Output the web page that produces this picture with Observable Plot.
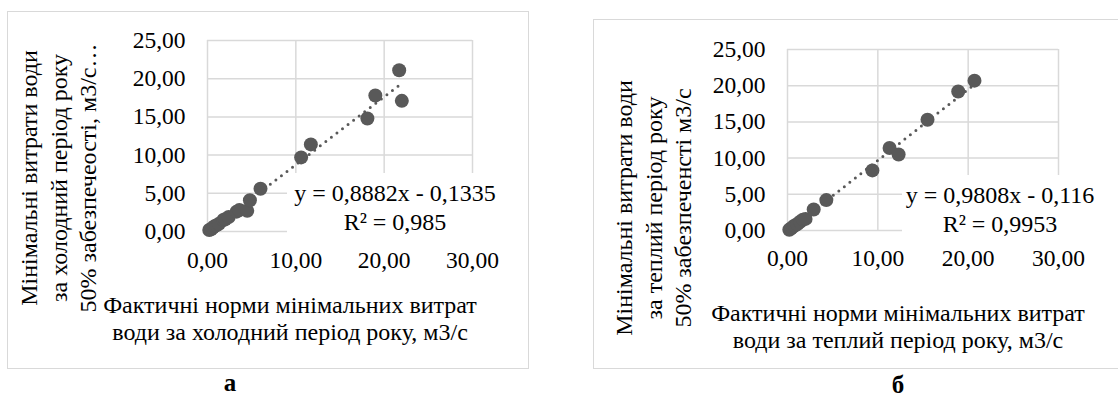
<!DOCTYPE html>
<html>
<head>
<meta charset="utf-8">
<script src="https://cdn.jsdelivr.net/npm/d3@7"></script>
<script src="https://cdn.jsdelivr.net/npm/@observablehq/plot@0.6"></script>
</head>
<body style="margin:0;padding:0;background:#fff;font-family:'Liberation Serif'">
<div id="root" style="position:relative;width:1118px;height:403px;background:#fff;overflow:hidden;font-family:'Liberation Serif';color:#000"></div>
<script>
// ---------- data ----------
const xTicks = [0, 10, 20, 30];
const yTicks = [0, 5, 10, 15, 20, 25];

// (а) cold period
const coldX = [0.2, 0.4, 0.6, 0.8, 1.0, 1.3, 1.8, 2.0, 2.4, 3.3, 3.6, 4.5, 4.8, 6.0, 10.6, 11.7, 18.1, 19.0, 21.7, 22.0];
const coldY = [0.2, 0.3, 0.5, 0.7, 0.8, 1.0, 1.5, 1.6, 1.9, 2.6, 2.8, 2.7, 4.1, 5.6, 9.7, 11.4, 14.8, 17.8, 21.1, 17.1];
const coldSlope = 0.8882, coldIntercept = -0.1335;
const coldEq = ["y = 0,8882x - 0,1335", "R² = 0,985"];
const coldYTitle = ["Мінімальні витрати води", "за холодний період року", "50% забезпечеості, м3/с…"];
const coldXTitle = ["Фактичні норми мінімальних витрат", "води за холодний період року, м3/с"];
const coldCaption = "а";

// (б) warm period
const warmX = [0.2, 0.4, 0.6, 0.8, 1.1, 1.4, 1.7, 2.0, 2.9, 4.3, 9.4, 11.3, 12.3, 15.5, 18.9, 20.7];
const warmY = [0.1, 0.3, 0.5, 0.7, 0.9, 1.2, 1.5, 1.6, 2.9, 4.2, 8.3, 11.4, 10.5, 15.3, 19.2, 20.7];
const warmSlope = 0.9808, warmIntercept = -0.116;
const warmEq = ["y = 0,9808x - 0,116", "R² = 0,9953"];
const warmYTitle = ["Мінімальні витрати води", "за теплий період року", "50% забезпеченсті м3/с"];
const warmXTitle = ["Фактичні норми мінімальних витрат", "води за теплий період року, м3/с"];
const warmCaption = "б";

// ---------- drawing ----------
const FONT = "'Liberation Serif'";
const fmt = d => d.toFixed(2).replace(".", ",");
const root = document.getElementById("root");

function el(css, html) {
  const d = document.createElement("div");
  Object.assign(d.style, {position: "absolute", fontFamily: FONT, color: "#000"}, css);
  if (html != null) d.innerHTML = html;
  root.appendChild(d);
  return d;
}

function panel(o) {
  const pts = o.xs.map((x, i) => ({x, y: o.ys[i]}));
  const x0 = d3.min(o.xs), x1 = d3.max(o.xs);
  const trend = [x0, x1].map(x => ({x, y: o.slope * x + o.intercept}));
  const chart = Plot.plot({
    width: o.w, height: o.h,
    marginLeft: o.ml, marginRight: o.mr, marginTop: o.mt, marginBottom: o.mb,
    style: {background: "transparent", fontFamily: FONT, fontSize: "23.5px", color: "#000", overflow: "visible", maxWidth: "none"},
    x: {domain: [0, 30], label: null},
    y: {domain: [0, 25], label: null},
    marks: [
      Plot.gridY(yTicks, {stroke: "#d9d9d9", strokeOpacity: 1, strokeWidth: 1.5}),
      Plot.gridX(xTicks, {stroke: "#d9d9d9", strokeOpacity: 1, strokeWidth: 1.5}),
      Plot.axisY({ticks: yTicks, tickSize: 0, tickPadding: 22, tickFormat: fmt, label: null, fontFamily: FONT}),
      Plot.axisX({ticks: xTicks, tickSize: 0, tickPadding: o.xpad, tickFormat: fmt, label: null, fontFamily: FONT}),
      Plot.line(trend, {x: "x", y: "y", stroke: "#595959", strokeWidth: 3, strokeDasharray: "0,7", strokeLinecap: "round"}),
      Plot.dot(pts, {x: "x", y: "y", r: 7, fill: "#595959", stroke: "none"})
    ]
  });
  const wrap = el({left: o.left + "px", top: "0px"});
  wrap.appendChild(chart);
  el({left: o.eqL + "px", top: o.eqT + "px", width: o.eqW + "px", height: "70px", background: "#fff",
      textAlign: "center", fontSize: "24px", lineHeight: "28.5px", whiteSpace: "nowrap",
      boxSizing: "border-box", paddingTop: "6px"}, o.eq.join("<br>"));
  el({left: o.bx + "px", top: o.by + "px", width: o.bw + "px", height: o.bh + "px",
      border: "1.5px solid #d9d9d9", boxSizing: "border-box"});
  el({left: o.ytx + "px", top: o.yty + "px", transform: "translate(-50%, -50%) rotate(-90deg)",
      whiteSpace: "nowrap", textAlign: "center", fontSize: "24px", lineHeight: "29.5px"}, o.ytitle.join("<br>"));
  el({left: o.xtx + "px", top: o.xty + "px", transform: "translate(-50%, 0)", whiteSpace: "nowrap",
      textAlign: "center", fontSize: "24px", lineHeight: "26.5px"}, o.xtitle.join("<br>"));
  el({left: o.capx + "px", top: o.capy + "px", transform: "translate(-50%, -50%)", fontSize: "25px",
      fontWeight: "bold"}, o.cap);
}

panel({
  xs: coldX, ys: coldY, slope: coldSlope, intercept: coldIntercept,
  left: 0, w: 528, h: 290, ml: 207, mr: 56, mt: 40, mb: 59, xpad: 20,
  eq: coldEq, eqL: 287, eqT: 173, eqW: 216,
  bx: 7, by: 11, bw: 522, bh: 358,
  ytitle: coldYTitle, ytx: 59, yty: 178,
  xtitle: coldXTitle, xtx: 290, xty: 292,
  cap: coldCaption, capx: 230, capy: 383
});

panel({
  xs: warmX, ys: warmY, slope: warmSlope, intercept: warmIntercept,
  left: 593, w: 525, h: 290, ml: 194, mr: 60, mt: 49, mb: 60, xpad: 19,
  eq: warmEq, eqL: 902, eqT: 175, eqW: 196,
  bx: 593, by: 19, bw: 540, bh: 350,
  ytitle: warmYTitle, ytx: 654, yty: 208,
  xtitle: warmXTitle, xtx: 898, xty: 300,
  cap: warmCaption, capx: 898, capy: 385
});
</script>
</body>
</html>
